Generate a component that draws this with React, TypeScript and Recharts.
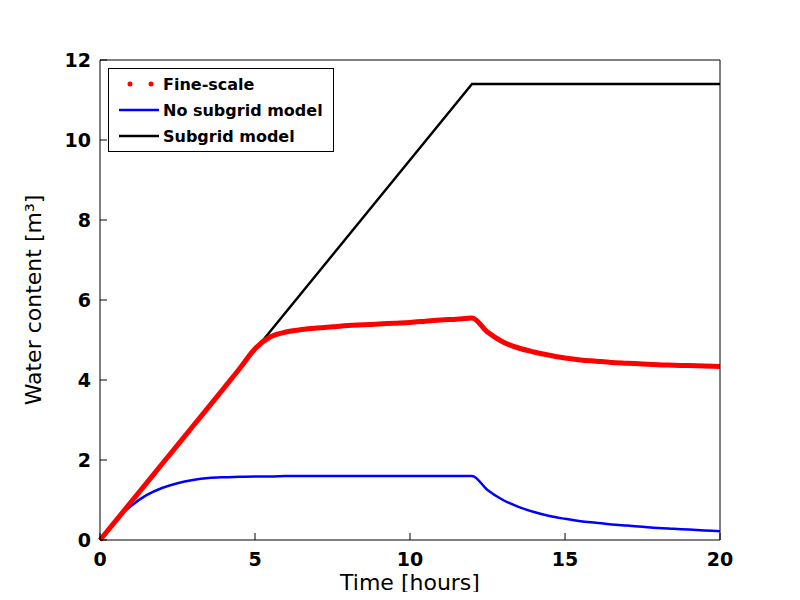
import { LineChart, Line, XAxis, YAxis } from "recharts";

const times = [0, 0.5, 1, 1.5, 2, 2.5, 3, 3.5, 4, 4.5, 5, 5.5, 6, 6.5, 7, 7.5, 8, 8.5, 9, 9.5, 10, 10.5, 11, 11.5, 12, 12.5, 13, 13.5, 14, 14.5, 15, 15.5, 16, 16.5, 17, 17.5, 18, 18.5, 19, 19.5, 20];
const fineScale = [0, 0.47, 0.95, 1.42, 1.9, 2.37, 2.85, 3.32, 3.8, 4.28, 4.78, 5.08, 5.2, 5.26, 5.3, 5.33, 5.36, 5.38, 5.4, 5.42, 5.44, 5.47, 5.5, 5.52, 5.55, 5.2, 4.95, 4.8, 4.7, 4.62, 4.55, 4.5, 4.47, 4.44, 4.42, 4.4, 4.38, 4.37, 4.36, 4.35, 4.34];
const noSubgrid = [0, 0.5, 0.85, 1.12, 1.3, 1.42, 1.5, 1.55, 1.57, 1.58, 1.59, 1.59, 1.6, 1.6, 1.6, 1.6, 1.6, 1.6, 1.6, 1.6, 1.6, 1.6, 1.6, 1.6, 1.6, 1.25, 1.0, 0.83, 0.7, 0.6, 0.53, 0.47, 0.43, 0.39, 0.36, 0.33, 0.3, 0.28, 0.26, 0.24, 0.22];
const subgrid = [0, 0.475, 0.95, 1.425, 1.9, 2.375, 2.85, 3.325, 3.8, 4.275, 4.75, 5.225, 5.7, 6.175, 6.65, 7.125, 7.6, 8.075, 8.55, 9.025, 9.5, 9.975, 10.45, 10.925, 11.4, 11.4, 11.4, 11.4, 11.4, 11.4, 11.4, 11.4, 11.4, 11.4, 11.4, 11.4, 11.4, 11.4, 11.4, 11.4, 11.4];
const xTicks = [0, 5, 10, 15, 20];
const yTicks = [0, 2, 4, 6, 8, 10, 12];

const data = times.map((t, i) => ({
  t,
  fine: fineScale[i],
  none: noSubgrid[i],
  sub: subgrid[i],
}));

const font = "'DejaVu Sans', sans-serif";
const tickStyle = { fontSize: 19, fontWeight: "bold", fill: "#000", fontFamily: font };

export default function App() {
  return (
    <div style={{ position: "relative", width: 800, height: 600, margin: -8, background: "#fff" }}>
      <LineChart width={800} height={600} data={data} margin={{ top: 59, right: 79, left: 40, bottom: 0 }}>
        <XAxis
          dataKey="t"
          type="number"
          domain={[0, 20]}
          ticks={xTicks}
          height={60}
          stroke="#000"
          tick={tickStyle}
          tickSize={-7}
          tickMargin={20}
          label={{ value: "Time [hours]", position: "insideBottom", offset: 10, style: { fontSize: 22, fill: "#000", fontFamily: font } }}
        />
        <XAxis xAxisId="top" orientation="top" dataKey="t" type="number" domain={[0, 20]} ticks={xTicks} height={1} stroke="#000" tick={false} tickSize={-7} />
        <YAxis
          type="number"
          domain={[0, 12]}
          ticks={yTicks}
          width={60}
          stroke="#000"
          tick={tickStyle}
          tickSize={-7}
          tickMargin={16}
          label={{ value: "Water content [m³]", angle: -90, position: "insideLeft", offset: -7, style: { fontSize: 22, fill: "#000", fontFamily: font, textAnchor: "middle" } }}
        />
        <YAxis yAxisId="right" orientation="right" type="number" domain={[0, 12]} ticks={yTicks} width={1} stroke="#000" tick={false} tickSize={-7} />
        <Line dataKey="sub" stroke="#000" strokeWidth={2.5} dot={false} isAnimationActive={false} />
        <Line dataKey="none" type="monotone" stroke="#0000ff" strokeWidth={2.5} dot={false} isAnimationActive={false} />
        <Line dataKey="fine" type="monotone" stroke="#ff0000" strokeWidth={5} dot={false} isAnimationActive={false} />
      </LineChart>
      <div style={{ position: "absolute", left: 108, top: 68, width: 224, height: 82, border: "1px solid #000", background: "#fff", fontFamily: font, fontWeight: "bold", fontSize: 16 }}>
        {[
          { label: "Fine-scale", color: "#ff0000", dotted: true },
          { label: "No subgrid model", color: "#0000ff", dotted: false },
          { label: "Subgrid model", color: "#000", dotted: false },
        ].map((e, i) => (
          <div key={i} style={{ position: "absolute", left: 10, top: 5 + i * 26, display: "flex", alignItems: "center", height: 20 }}>
            <svg width={40} height={10} style={{ marginRight: 4 }}>
              {e.dotted ? (
                <>
                  <circle cx={11} cy={5} r={2.5} fill={e.color} />
                  <circle cx={32} cy={5} r={2.5} fill={e.color} />
                </>
              ) : (
                <line x1={0} y1={5} x2={40} y2={5} stroke={e.color} strokeWidth={2.5} />
              )}
            </svg>
            <span>{e.label}</span>
          </div>
        ))}
      </div>
    </div>
  );
}
